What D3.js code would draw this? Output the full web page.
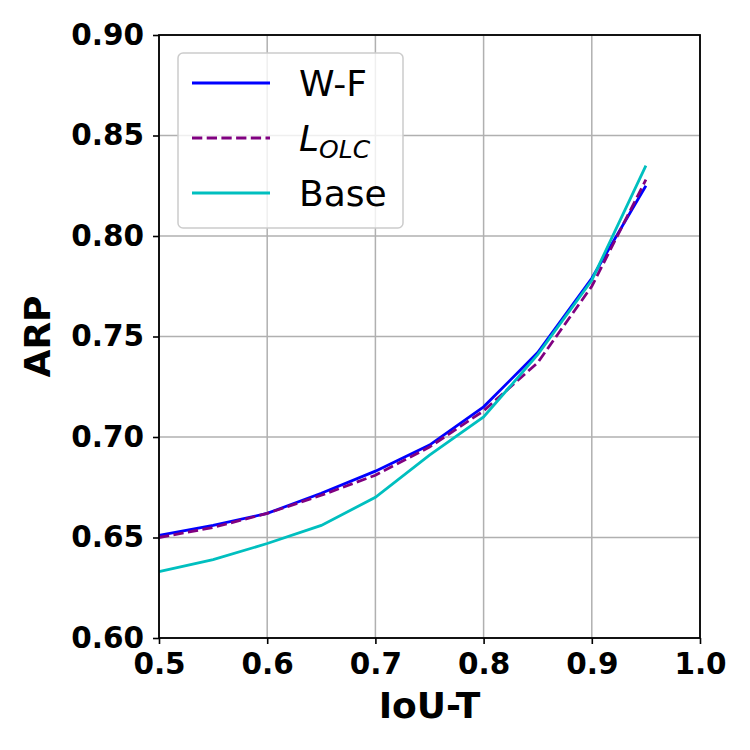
<!DOCTYPE html>
<html lang="en">
<head>
<meta charset="UTF-8">
<title>ARP vs IoU-T</title>
<script src="https://d3js.org/d3.v7.js"></script>
<style>
  body { margin: 0; background: white; }
  text { font-family: "DejaVu Sans", sans-serif; }
</style>
</head>
<body>
<svg id="chart" width="750" height="750"></svg>
<script>
// IoU thresholds on the x axis
var iouT = [0.5, 0.55, 0.6, 0.65, 0.7, 0.75, 0.8, 0.85, 0.9, 0.95];

// ARP values
var wfVals   = [0.651, 0.656, 0.662, 0.672, 0.683, 0.696, 0.715, 0.742, 0.779, 0.825];
var olcVals  = [0.650, 0.655, 0.662, 0.671, 0.681, 0.695, 0.713, 0.737, 0.775, 0.828];
var baseVals = [0.633, 0.639, 0.647, 0.656, 0.670, 0.691, 0.710, 0.741, 0.778, 0.835];

var xTicks = [0.5, 0.6, 0.7, 0.8, 0.9, 1.0];
var yTicks = [0.60, 0.65, 0.70, 0.75, 0.80, 0.85, 0.90];

var series = [
  { name: "W-F",  values: wfVals,   color: "#0000ff", dash: null },
  { name: "LOLC", values: olcVals,  color: "#800080", dash: "10.3,4.4" },
  { name: "Base", values: baseVals, color: "#00bfbf", dash: null }
];

var margin = { left: 159, right: 50, top: 35, bottom: 112 };
var W = 750, H = 750;

var svg = d3.select("#chart");

var x = d3.scaleLinear().domain([0.5, 1.0]).range([margin.left, W - margin.right]);
var y = d3.scaleLinear().domain([0.60, 0.90]).range([H - margin.bottom, margin.top]);

// grid lines
var grid = svg.append("g");
grid.selectAll(".gx").data(xTicks).join("line")
  .attr("x1", d => x(d)).attr("x2", d => x(d))
  .attr("y1", y(0.60)).attr("y2", y(0.90))
  .attr("stroke", "#b0b0b0").attr("stroke-width", 1.5);
grid.selectAll(".gy").data(yTicks).join("line")
  .attr("x1", x(0.5)).attr("x2", x(1.0))
  .attr("y1", d => y(d)).attr("y2", d => y(d))
  .attr("stroke", "#b0b0b0").attr("stroke-width", 1.5);

// the lines
var line = d3.line()
  .x((d, i) => x(iouT[i]))
  .y(d => y(d));

svg.append("g").selectAll("path").data(series).join("path")
  .attr("d", d => line(d.values))
  .attr("fill", "none")
  .attr("stroke", d => d.color)
  .attr("stroke-width", 2.8)
  .attr("stroke-dasharray", d => d.dash);

// axes
var xAxis = svg.append("g")
  .attr("transform", "translate(0," + y(0.60) + ")")
  .call(d3.axisBottom(x).tickValues(xTicks).tickFormat(d3.format(".1f")).tickSize(6).tickPadding(9));
var yAxis = svg.append("g")
  .attr("transform", "translate(" + x(0.5) + ",0)")
  .call(d3.axisLeft(y).tickValues(yTicks).tickFormat(d3.format(".2f")).tickSize(6).tickPadding(9));

[xAxis, yAxis].forEach(function(a) {
  a.select(".domain").remove();
  a.selectAll(".tick line").attr("stroke", "#000").attr("stroke-width", 1.6);
  a.selectAll(".tick text")
    .attr("fill", "#000")
    .style("font-size", "29.5px")
    .style("font-weight", "bold")
    .style("font-family", "DejaVu Sans");
});

// frame
svg.append("rect")
  .attr("x", x(0.5)).attr("y", y(0.90))
  .attr("width", x(1.0) - x(0.5)).attr("height", y(0.60) - y(0.90))
  .attr("fill", "none").attr("stroke", "#000").attr("stroke-width", 1.8);

// axis labels
svg.append("text")
  .attr("x", (x(0.5) + x(1.0)) / 2).attr("y", 718)
  .attr("text-anchor", "middle")
  .style("font-size", "36px").style("font-weight", "bold")
  .text("IoU-T");

svg.append("text")
  .attr("transform", "translate(50," + (y(0.60) + y(0.90)) / 2 + ") rotate(-90)")
  .attr("text-anchor", "middle")
  .style("font-size", "36px").style("font-weight", "bold")
  .text("ARP");

// legend
var leg = svg.append("g");
leg.append("rect")
  .attr("x", 178).attr("y", 53).attr("width", 225).attr("height", 175)
  .attr("rx", 5)
  .attr("fill", "white").attr("fill-opacity", 0.8)
  .attr("stroke", "#cccccc").attr("stroke-width", 1.5);

var rows = leg.selectAll(".row").data(series).join("g")
  .attr("transform", (d, i) => "translate(0," + (83 + i * 55) + ")");
rows.append("line")
  .attr("x1", 192).attr("x2", 270)
  .attr("stroke", d => d.color).attr("stroke-width", 2.8)
  .attr("stroke-dasharray", d => d.dash);

rows.each(function(d) {
  var t = d3.select(this).append("text")
    .attr("x", 299).attr("y", 13)
    .style("font-size", "36px");
  if (d.name === "LOLC") {
    t.append("tspan").style("font-style", "italic").text("L");
    t.append("tspan").style("font-style", "italic").style("font-size", "25px")
      .attr("dy", 7).text("OLC");
  } else {
    t.text(d.name);
  }
});
</script>
</body>
</html>
